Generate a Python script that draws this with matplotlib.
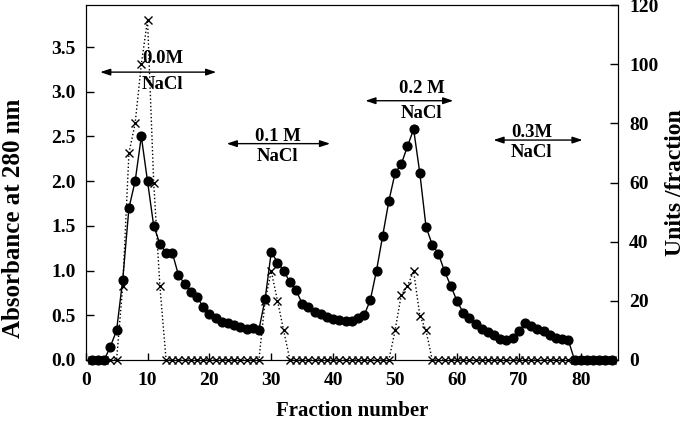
import matplotlib as mpl
mpl.use('Agg')
import matplotlib.pyplot as plt
import numpy as np

plt.rcParams['font.family'] = ['Liberation Serif', 'DejaVu Serif']
plt.rcParams['font.weight'] = 'bold'

# fraction numbers 1..85
fraction = np.arange(1, 86)

# absorbance at 280 nm (filled circles, solid line)
absorbance = [0, 0, 0, 0.15, 0.33, 0.9, 1.7, 2.0, 2.5, 2.0,
              1.5, 1.3, 1.2, 1.2, 0.95, 0.85, 0.76, 0.71, 0.59, 0.51,
              0.47, 0.43, 0.41, 0.39, 0.37, 0.35, 0.36, 0.34, 0.68, 1.21,
              1.09, 1.0, 0.87, 0.78, 0.63, 0.59, 0.54, 0.51, 0.48, 0.46,
              0.45, 0.44, 0.44, 0.47, 0.50, 0.67, 1.0, 1.39, 1.78, 2.09,
              2.19, 2.39, 2.58, 2.09, 1.49, 1.29, 1.19, 0.99, 0.83, 0.66,
              0.53, 0.47, 0.40, 0.35, 0.31, 0.28, 0.23, 0.22, 0.25, 0.32,
              0.41, 0.38, 0.35, 0.32, 0.28, 0.25, 0.24, 0.22, 0, 0,
              0, 0, 0, 0, 0]

# enzyme activity, units/fraction (crosses, dotted line)
activity = [0, 0, 0, 0, 0, 25, 70, 80, 100, 115,
            60, 25, 0, 0, 0, 0, 0, 0, 0, 0,
            0, 0, 0, 0, 0, 0, 0, 0, 20, 30,
            20, 10, 0, 0, 0, 0, 0, 0, 0, 0,
            0, 0, 0, 0, 0, 0, 0, 0, 0, 10,
            22, 25, 30, 15, 10, 0, 0, 0, 0, 0,
            0, 0, 0, 0, 0, 0, 0, 0, 0, 0,
            0, 0, 0, 0, 0, 0, 0, 0, 0, 0,
            0, 0, 0, 0, 0]

# NaCl step labels: text, centre x, arrow start/end
salt_labels = ['0.0M', '0.1 M', '0.2 M', '0.3M']
salt_x = [12.4, 31.0, 54.3, 72.1]
salt_y = [3.37, 2.50, 3.04, 2.54]
arrow_x0 = [2.35, 22.8, 45.2, 65.9]
arrow_x1 = [21.1, 39.5, 59.4, 80.3]
arrow_y = [3.22, 2.42, 2.90, 2.46]

fig = plt.figure(figsize=(6.85, 4.23), dpi=100)
ax = fig.add_axes([0.125, 0.149, 0.777, 0.839])
ax2 = ax.twinx()

ax.plot(fraction, absorbance, '-', color='black', lw=1,
        marker='o', ms=6.3, mfc='black', mec='black', clip_on=False, zorder=3)
ax2.plot(fraction, activity, ':', color='black', lw=1,
         marker='x', ms=6, mew=1, clip_on=False, zorder=3)

ax.set_xlim(0, 86)
ax.set_ylim(0, 3.97)
ax2.set_ylim(0, 120)
ax.set_xticks(np.arange(0, 81, 10))
ax.set_yticks(np.arange(0, 3.6, 0.5))
ax.set_yticklabels(['%.1f' % v for v in np.arange(0, 3.6, 0.5)])
ax2.set_yticks(np.arange(0, 121, 20))

ax.tick_params(direction='in', length=6, width=1, labelsize=14, pad=7)
ax.tick_params(axis='x', length=5, pad=9)
ax2.tick_params(direction='in', length=6, width=1, labelsize=14, pad=8)

ax.set_xlabel('Fraction number', fontsize=15, fontweight='bold', labelpad=8)
ax.set_ylabel('Absorbance at 280 nm', fontsize=18, fontweight='bold')
ax.yaxis.set_label_coords(-0.113, 0.40)
ax2.set_ylabel('Units /fraction', fontsize=17, fontweight='bold', labelpad=5)

for i in range(len(salt_labels)):
    ax.text(salt_x[i], salt_y[i], salt_labels[i], ha='center', va='center',
            fontsize=13.5, fontweight='bold')
    ax.text(salt_x[i], arrow_y[i] - 0.14, 'NaCl', ha='center', va='center',
            fontsize=13.5, fontweight='bold')
    ax.annotate('', xy=(arrow_x1[i], arrow_y[i]), xytext=(arrow_x0[i], arrow_y[i]),
                arrowprops=dict(arrowstyle='<|-|>,head_length=0.6,head_width=0.2',
                                color='black', lw=1, shrinkA=0, shrinkB=0))

fig.savefig('out.png', dpi=100)
